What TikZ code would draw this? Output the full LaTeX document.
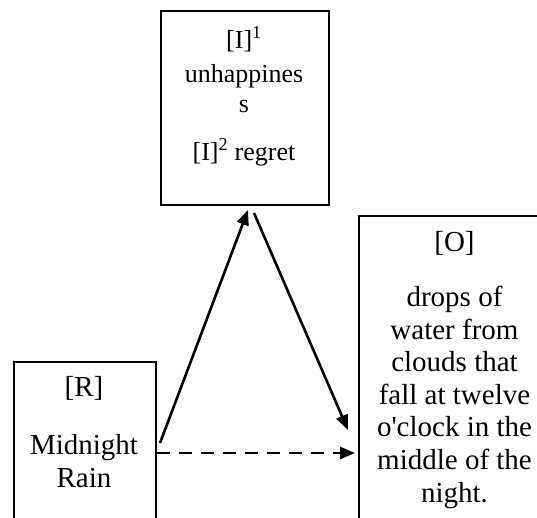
\documentclass[tikz,border=0pt]{standalone}
\usepackage{fontspec}
\setmainfont{Liberation Serif}[Ligatures=TeXOff]
\usetikzlibrary{arrows.meta}
\begin{document}
\begin{tikzpicture}[x=1pt,y=-1pt,
  frame/.style={draw, line width=1.8pt, inner sep=0pt, anchor=north west},
  label/.style={align=center, inner sep=0pt, anchor=base},
  bigtext/.style={font=\fontsize{29}{32.6}\selectfont},
  smalltext/.style={font=\fontsize{26}{30}\selectfont},
  link/.style={line width=2.6pt, -{Triangle[length=15pt,width=12pt]}}]
\useasboundingbox (0,0) rectangle (537,517);
\clip (0,0) rectangle (537,517);

% the three boxes (bottom and right sides run off the page)
\node[frame, minimum width=168pt, minimum height=194pt] (I) at (160,10) {};
\node[frame, minimum width=142pt, minimum height=200pt] (R) at (13,361) {};
\node[frame, minimum width=193pt, minimum height=345pt] (O) at (358,215) {};

% box texts, each placed by the baseline of its last line
\node[label, smalltext] (itext) at (244,160)
  {[I]\textsuperscript{1}\\[4pt]unhappines\\s\\[18pt][I]\textsuperscript{2} regret};
\node[label, bigtext] (rtext) at (84,487) {[R]\\[25pt]Midnight\\Rain};
\node[label, bigtext] (otext) at (454.5,502)
  {[O]\\[22pt]drops of\\water from\\clouds that\\fall at twelve\\o'clock in the\\middle of the\\night.};

% arrow ends in the gaps between the boxes
\coordinate (rUp) at (160,443);
\coordinate (iIn) at (248,210);
\coordinate (iOut) at (254,213);
\coordinate (oIn) at (348,430);
\coordinate (rSide) at (157,453);
\coordinate (oSide) at (355,453);

\draw[link] (rUp) -- (iIn);
\draw[link] (iOut) -- (oIn);
\draw[link, dash pattern=on 13pt off 9pt] (rSide) -- (oSide);
\end{tikzpicture}
\end{document}
